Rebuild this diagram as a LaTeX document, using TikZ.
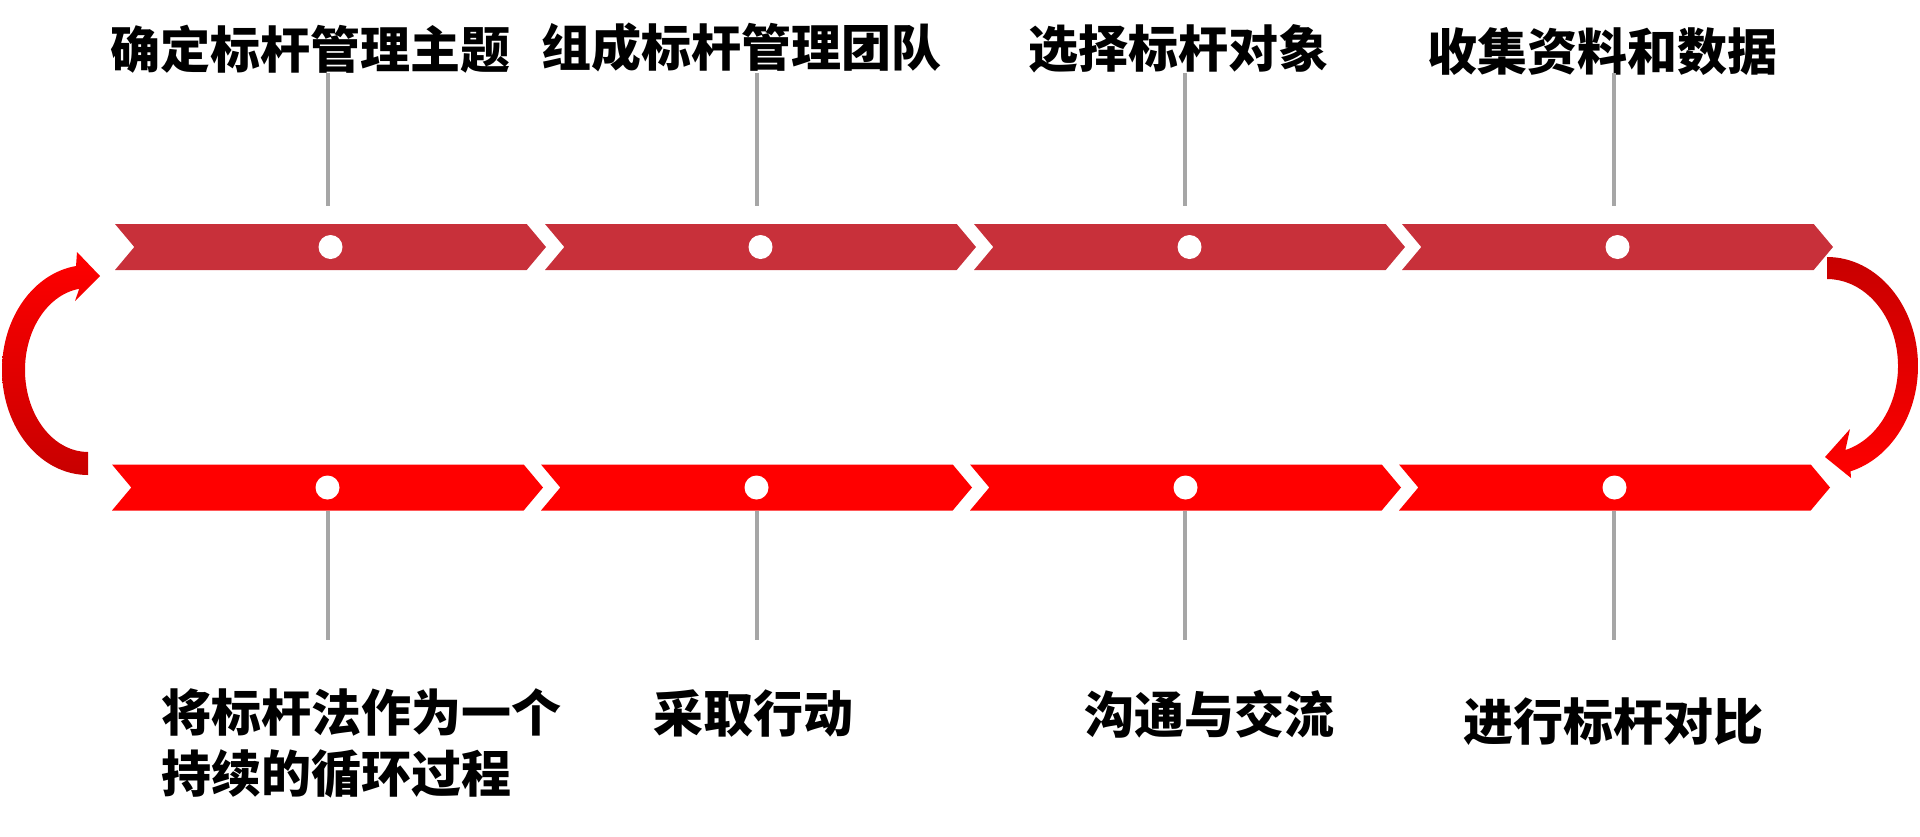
\documentclass[tikz,border=0pt]{standalone}
\usepackage{fontspec}
\newfontfamily\cjk{Noto Sans CJK SC}
\usetikzlibrary{shapes.symbols,calc}
\definecolor{chevtop}{RGB}{200,48,58}
\definecolor{chevbot}{RGB}{255,0,0}
\definecolor{arcdark}{RGB}{200,0,0}
\definecolor{stemgray}{RGB}{166,166,166}

\begin{document}
\begin{tikzpicture}[
  x=1pt, y=-1pt,
  chev/.style    = {signal, signal from=west, signal to=east,
                    signal pointer angle=100, minimum width=431pt,
                    minimum height=46pt, inner sep=0pt, outer sep=0pt},
  topchev/.style = {chev, fill=chevtop},
  botchev/.style = {chev, fill=chevbot},
  dot/.style     = {circle, fill=white, minimum size=24pt, inner sep=0pt},
  lbl/.style     = {font=\cjk\bfseries\fontsize{50}{61}\selectfont, inner sep=0pt},
  stem/.style    = {draw=stemgray, line width=4pt},
]
\useasboundingbox (0,0) rectangle (1920,836);

\node[topchev] (c1) at (330.5,247) {};
\node[topchev] (c2) at (760.5,247) {};
\node[topchev] (c3) at (1189.5,247) {};
\node[topchev] (c4) at (1617.5,247) {};

\node[botchev] (e1) at (327.5,487.5) {};
\node[botchev] (e2) at (756.5,487.5) {};
\node[botchev] (e3) at (1185.5,487.5) {};
\node[botchev] (e4) at (1614.5,487.5) {};

\node[dot] (d1) at (c1) {};
\node[dot] (d2) at (c2) {};
\node[dot] (d3) at (c3) {};
\node[dot] (d4) at (c4) {};
\node[dot] (f1) at (e1) {};
\node[dot] (f2) at (e2) {};
\node[dot] (f3) at (e3) {};
\node[dot] (f4) at (e4) {};

\node[lbl] (l1) at (310,49) {确定标杆管理主题};
\node[lbl] (l2) at (741,47) {组成标杆管理团队};
\node[lbl] (l3) at (1178,49) {选择标杆对象};
\node[lbl] (l4) at (1602,51) {收集资料和数据};
\node[lbl, align=left] (l5) at (361,743) {将标杆法作为一个\\持续的循环过程};
\node[lbl] (l6) at (753,714) {采取行动};
\node[lbl] (l7) at (1209,714) {沟通与交流};
\node[lbl] (l8) at (1613,722) {进行标杆对比};

\coordinate (u1) at (328,73);
\coordinate (u2) at (757,73);
\coordinate (u3) at (1185,73);
\coordinate (u4) at (1614,73);
\coordinate (v1) at (328,640);
\coordinate (v2) at (757,640);
\coordinate (v3) at (1185,640);
\coordinate (v4) at (1614,640);

\draw[stem, shorten >=18pt] (u1) -- (u1 |- c1.north);
\draw[stem, shorten >=18pt] (u2) -- (u2 |- c2.north);
\draw[stem, shorten >=18pt] (u3) -- (u3 |- c3.north);
\draw[stem, shorten >=18pt] (u4) -- (u4 |- c4.north);
\draw[stem] (v1 |- e1.south) -- (v1);
\draw[stem] (v2 |- e2.south) -- (v2);
\draw[stem] (v3 |- e3.south) -- (v3);
\draw[stem] (v4 |- e4.south) -- (v4);

\coordinate (lc) at (88,370);
\coordinate (rc) at (1827,366);
\shade[top color=chevbot, bottom color=arcdark]
  ($(lc)+(90:86 and 105)$) arc[start angle=90, end angle=262, x radius=86, y radius=105]
  -- (77,252) -- (100,276) -- (75,301)
  -- ($(lc)+(262:63 and 82)$) arc[start angle=262, end angle=90, x radius=63, y radius=82]
  -- cycle;
\shade[top color=arcdark, bottom color=chevbot]
  ($(rc)+(270:91 and 109)$) arc[start angle=270, end angle=435, x radius=91, y radius=109]
  -- (1851,478) -- (1825,457) -- (1850,429)
  -- ($(rc)+(435:71 and 87)$) arc[start angle=435, end angle=270, x radius=71, y radius=87]
  -- cycle;

\end{tikzpicture}
\end{document}
